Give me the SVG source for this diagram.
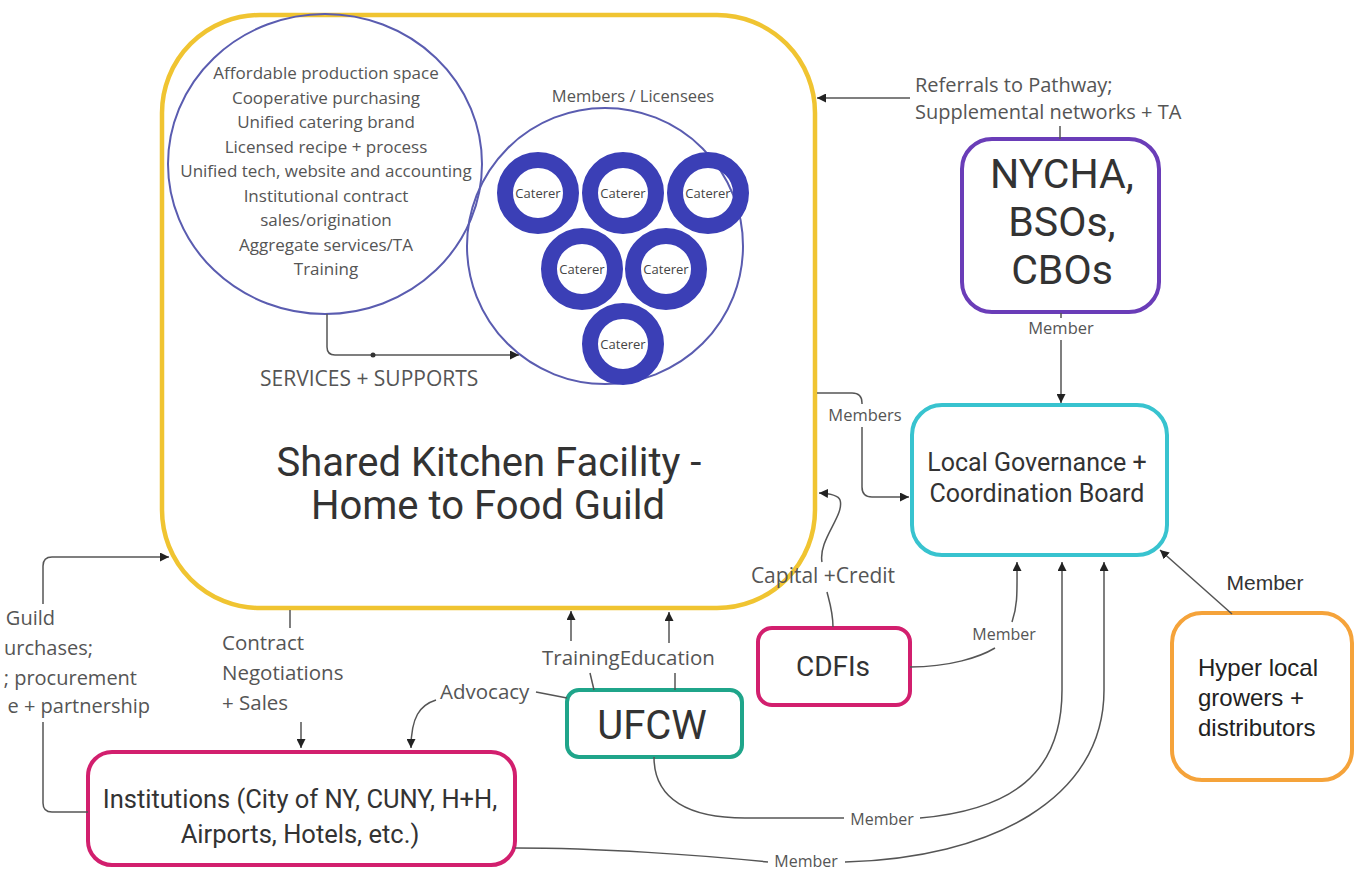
<svg xmlns="http://www.w3.org/2000/svg" width="1354" height="871" viewBox="0 0 1354 871">
<style>
.lbl{font-family:"Open Sans","DejaVu Sans",sans-serif;fill:#555;}
.svc{font-family:"Open Sans","DejaVu Sans",sans-serif;fill:#555;font-size:17px;text-anchor:middle;}
.big{font-family:Roboto,"Liberation Sans",sans-serif;fill:#333;text-anchor:middle;}
.conn{fill:none;stroke:#555;stroke-width:1.5;}
.ring{fill:none;stroke:#3b3fb6;stroke-width:16;}
.cat{font-family:"Open Sans","DejaVu Sans",sans-serif;font-size:13px;fill:#444;text-anchor:middle;}
</style>
<defs>
<marker id="ah" viewBox="0 0 10 10" refX="10" refY="5" markerWidth="9" markerHeight="9" markerUnits="userSpaceOnUse" orient="auto"><path d="M0,0 L10,5 L0,10 z" fill="#222"/></marker>
</defs>
<rect width="1354" height="871" fill="#fff"/>

<g id="kitchen">
<rect x="162" y="15" width="653" height="593" rx="98" fill="#fff" stroke="#f0c431" stroke-width="4.5"/>
<text class="big" font-size="40" x="489" y="476">Shared Kitchen Facility -</text>
<text class="big" font-size="40" x="488" y="519">Home to Food Guild</text>
</g>

<g id="services">
<ellipse cx="325" cy="164" rx="157" ry="150" fill="none" stroke="#5a5cb0" stroke-width="2"/>
<text class="svc" x="326" y="79">Affordable production space</text>
<text class="svc" x="326" y="103.5">Cooperative purchasing</text>
<text class="svc" x="326" y="128">Unified catering brand</text>
<text class="svc" x="326" y="152.5">Licensed recipe + process</text>
<text class="svc" x="326" y="177">Unified tech, website and accounting</text>
<text class="svc" x="326" y="201.5">Institutional contract</text>
<text class="svc" x="326" y="226">sales/origination</text>
<text class="svc" x="326" y="250.5">Aggregate services/TA</text>
<text class="svc" x="326" y="275">Training</text>
</g>

<g id="members">
<text class="lbl" font-size="16.5" x="633" y="102" text-anchor="middle">Members / Licensees</text>
<circle cx="605" cy="246" r="138" fill="none" stroke="#5a5cb0" stroke-width="2"/>
<circle class="ring" cx="538" cy="193" r="33"/><text class="cat" x="538" y="198">Caterer</text>
<circle class="ring" cx="623" cy="193" r="33"/><text class="cat" x="623" y="198">Caterer</text>
<circle class="ring" cx="708" cy="193" r="33"/><text class="cat" x="708" y="198">Caterer</text>
<circle class="ring" cx="582" cy="269" r="33"/><text class="cat" x="582" y="274">Caterer</text>
<circle class="ring" cx="666" cy="269" r="33"/><text class="cat" x="666" y="274">Caterer</text>
<circle class="ring" cx="623" cy="344" r="33"/><text class="cat" x="623" y="349">Caterer</text>
</g>

<g id="nycha">
<rect x="962" y="139" width="197" height="173" rx="30" fill="#fff" stroke="#6a3db8" stroke-width="4"/>
<text class="big" font-size="41" x="1062" y="188">NYCHA,</text>
<text class="big" font-size="41" x="1062" y="236">BSOs,</text>
<text class="big" font-size="41" x="1062" y="284">CBOs</text>
</g>

<g id="governance">
<rect x="912" y="405" width="255" height="150" rx="30" fill="#fff" stroke="#38c3cf" stroke-width="4"/>
<text class="big" font-size="25" x="1037" y="471" fill="#444">Local Governance +</text>
<text class="big" font-size="25" x="1037" y="502" fill="#444">Coordination Board</text>
</g>

<g id="cdfis">
<rect x="758" y="628" width="152" height="77" rx="14" fill="#fff" stroke="#d21f6e" stroke-width="4"/>
<text class="big" font-size="28" x="833" y="676">CDFIs</text>
</g>

<g id="ufcw">
<rect x="567" y="690" width="175" height="67" rx="12" fill="#fff" stroke="#1fa58a" stroke-width="4"/>
<text class="big" font-size="40" x="652" y="739">UFCW</text>
</g>

<g id="institutions">
<rect x="88" y="752" width="427" height="113" rx="24" fill="#fff" stroke="#d21f6e" stroke-width="4"/>
<text class="big" font-size="25.5" x="300" y="808">Institutions (City of NY, CUNY, H+H,</text>
<text class="big" font-size="25.5" x="300" y="843">Airports, Hotels, etc.)</text>
</g>

<g id="growers">
<rect x="1172" y="613" width="180" height="167" rx="30" fill="#fff" stroke="#f5a33a" stroke-width="4"/>
<text font-family="'Liberation Sans',Arial,sans-serif" font-size="24" fill="#222" x="1198" y="676">Hyper local</text>
<text font-family="'Liberation Sans',Arial,sans-serif" font-size="24" fill="#222" x="1198" y="706">growers +</text>
<text font-family="'Liberation Sans',Arial,sans-serif" font-size="24" fill="#222" x="1198" y="736">distributors</text>
</g>

<g id="connectors">
<path class="conn" d="M327,314 V347 Q327,355 335,355 H519" marker-end="url(#ah)"/>
<circle cx="373" cy="355" r="2.5" fill="#333"/>
<text class="lbl" font-size="21" x="260" y="386" fill="#444">SERVICES + SUPPORTS</text>

<path class="conn" d="M910,98 H817" marker-end="url(#ah)"/>
<path class="conn" d="M1060,126 V139"/>
<text class="lbl" font-size="20" x="915" y="92">Referrals to Pathway;</text>
<text class="lbl" font-size="20" x="915" y="119">Supplemental networks + TA</text>

<path class="conn" d="M1061,313 V318"/>
<path class="conn" d="M1061,340 V403" marker-end="url(#ah)"/>
<text class="lbl" font-size="16.5" x="1061" y="334" text-anchor="middle">Member</text>

<path class="conn" d="M817,393 H852 Q862,393 862,403 V404"/>
<path class="conn" d="M862,427 V487 Q862,497 872,497 H909" marker-end="url(#ah)"/>
<text class="lbl" font-size="16.5" x="865" y="421" text-anchor="middle">Members</text>

<path class="conn" d="M833,627 C833,612 829,600 827,592"/>
<path class="conn" d="M822,562 C818,540 845,515 840,500 Q838,494 819,493" marker-end="url(#ah)"/>
<text class="lbl" font-size="21" x="823" y="583" text-anchor="middle">Capital +Credit</text>

<path class="conn" d="M88,812 H52 Q43,812 43,803 V722"/>
<path class="conn" d="M43,604 V566 Q43,557 52,557 H169" marker-end="url(#ah)"/>
<text class="lbl" font-size="20" x="55" y="625" text-anchor="end">Guild</text>
<text class="lbl" font-size="20" x="93" y="655" text-anchor="end">urchases;</text>
<text class="lbl" font-size="20" x="137" y="685" text-anchor="end">; procurement</text>
<text class="lbl" font-size="20" x="150" y="713" text-anchor="end">e + partnership</text>

<path class="conn" d="M290,610 V628"/>
<path class="conn" d="M301,722 V748" marker-end="url(#ah)"/>
<text class="lbl" font-size="20.5" x="222" y="650">Contract</text>
<text class="lbl" font-size="20.5" x="222" y="680">Negotiations</text>
<text class="lbl" font-size="20.5" x="222" y="710">+ Sales</text>

<path class="conn" d="M536,692 L567,698"/>
<path class="conn" d="M436,700 C420,705 411,717 411,748" marker-end="url(#ah)"/>
<text class="lbl" font-size="20.5" x="440" y="699">Advocacy</text>

<path class="conn" d="M571,641 V611" marker-end="url(#ah)"/>
<path class="conn" d="M669,643 V612" marker-end="url(#ah)"/>
<path class="conn" d="M590,673 L594,690"/>
<path class="conn" d="M675,673 V690"/>
<text class="lbl" font-size="20.5" x="542" y="665">TrainingEducation</text>

<path class="conn" d="M910,667 C950,667 980,657 995,648"/>
<path class="conn" d="M1012,622 C1018,605 1017,590 1017,562" marker-end="url(#ah)"/>
<text class="lbl" font-size="16" x="1004" y="640" text-anchor="middle">Member</text>

<path class="conn" d="M654,757 C654,800 690,818 745,818 H844"/>
<path class="conn" d="M920,818 C1010,810 1062,775 1062,690 V562" marker-end="url(#ah)"/>
<text class="lbl" font-size="16" x="882" y="825" text-anchor="middle">Member</text>

<path class="conn" d="M515,848 C600,848 700,855 768,862"/>
<path class="conn" d="M845,862 C990,858 1104,800 1104,690 V562" marker-end="url(#ah)"/>
<text class="lbl" font-size="16" x="806" y="867" text-anchor="middle">Member</text>

<path class="conn" d="M1232,614 L1160,550" marker-end="url(#ah)"/>
<text font-family="'Liberation Sans',Arial,sans-serif" font-size="21" fill="#333" x="1265" y="590" text-anchor="middle">Member</text>
</g>
</svg>
